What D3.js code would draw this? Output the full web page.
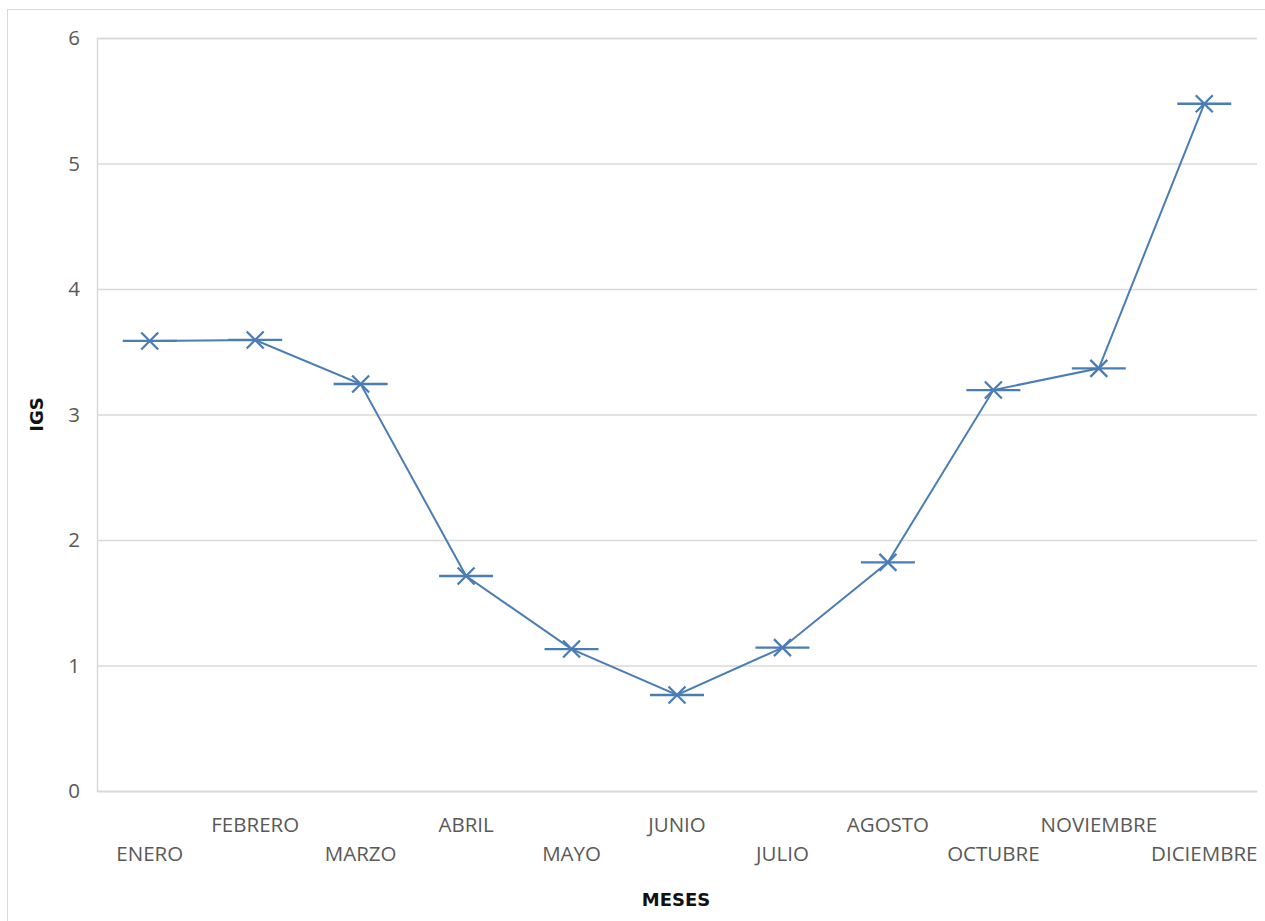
<!DOCTYPE html>
<html>
<head>
<meta charset="utf-8">
<script src="https://cdn.jsdelivr.net/npm/d3@7"></script>
<style>
  html, body { margin: 0; padding: 0; background: #fff; }
  svg { display: block; }
</style>
</head>
<body>
<svg id="chart" width="1265" height="921"></svg>
<script>
// Monthly IGS values
const months = ["ENERO", "FEBRERO", "MARZO", "ABRIL", "MAYO", "JUNIO",
                "JULIO", "AGOSTO", "OCTUBRE", "NOVIEMBRE", "DICIEMBRE"];
const igs = [3.586, 3.594, 3.243, 1.713, 1.131, 0.765, 1.142, 1.822, 3.195, 3.368, 5.476];
const yTicks = [0, 1, 2, 3, 4, 5, 6];

const svg = d3.select("#chart");
const W = 1265, H = 921;
const plot = { left: 97, right: 1257, top: 38, bottom: 791 };

const lineColor = "#4b7db5";
const gridColor = "#d9d9d9";
const textColor = "#595959";
const labelSize = 20.5;
const labelFont = "'Open Sans', 'Noto Sans', sans-serif";
const titleFont = "'DejaVu Sans', sans-serif";

// outer chart frame
svg.append("rect")
  .attr("x", 7.5).attr("y", 9.5)
  .attr("width", W + 10).attr("height", H + 10)
  .attr("fill", "#fff").attr("stroke", gridColor).attr("stroke-width", 1);

const x = d3.scaleBand().domain(months).range([plot.left, plot.right]);
const y = d3.scaleLinear().domain([0, 6]).range([plot.bottom, plot.top]);

// horizontal gridlines + y labels
const yAxis = d3.axisLeft(y).tickValues(yTicks).tickSize(-(plot.right - plot.left)).tickPadding(17)
  .tickFormat(d3.format("d"));
const gy = svg.append("g").attr("transform", `translate(${plot.left},0)`).call(yAxis);
gy.select(".domain").attr("stroke", gridColor).attr("stroke-width", 1.5);
gy.selectAll(".tick line").attr("stroke", gridColor).attr("stroke-width", 1.5);
gy.selectAll(".tick text").attr("fill", textColor)
  .style("font-size", labelSize + "px").style("font-family", labelFont);

// category axis with staggered labels
const xAxis = d3.axisBottom(x).tickSize(0).tickPadding(0);
const gx = svg.append("g").attr("transform", `translate(0,${plot.bottom})`).call(xAxis);
gx.select(".domain").attr("stroke", gridColor).attr("stroke-width", 1.5);
gx.selectAll(".tick text")
  .attr("fill", textColor)
  .style("font-size", labelSize + "px").style("font-family", labelFont)
  .attr("dy", null)
  .attr("y", (d, i) => i % 2 === 0 ? 70 : 41);

// data line
const cx = d => x(d) + x.bandwidth() / 2;
const pts = months.map((m, i) => [cx(m), y(igs[i])]);
svg.append("path")
  .datum(pts)
  .attr("d", d3.line())
  .attr("fill", "none")
  .attr("stroke", lineColor)
  .attr("stroke-width", 2);

// markers: X with a horizontal bar
const mk = svg.append("g").selectAll("g").data(months).join("g")
  .attr("transform", (d, i) => `translate(${cx(d)},${y(igs[i])})`)
  .attr("stroke", lineColor).attr("stroke-width", 2.3).attr("fill", "none");
mk.append("path").attr("d", "M-27,0H27");
mk.append("path").attr("d", "M-8.5,-8.5L8.5,8.5M-8.5,8.5L8.5,-8.5");

// axis titles
svg.append("text")
  .attr("x", (plot.left + plot.right) / 2 - 1).attr("y", 906)
  .attr("text-anchor", "middle")
  .style("font-size", "18px").style("font-weight", "bold").style("font-family", titleFont)
  .attr("fill", "#111").text("MESES");

svg.append("text")
  .attr("transform", `translate(43,${(plot.top + plot.bottom) / 2}) rotate(-90)`)
  .attr("text-anchor", "middle")
  .style("font-size", "18px").style("font-weight", "bold").style("font-family", titleFont)
  .attr("fill", "#111").text("IGS");
</script>
</body>
</html>
